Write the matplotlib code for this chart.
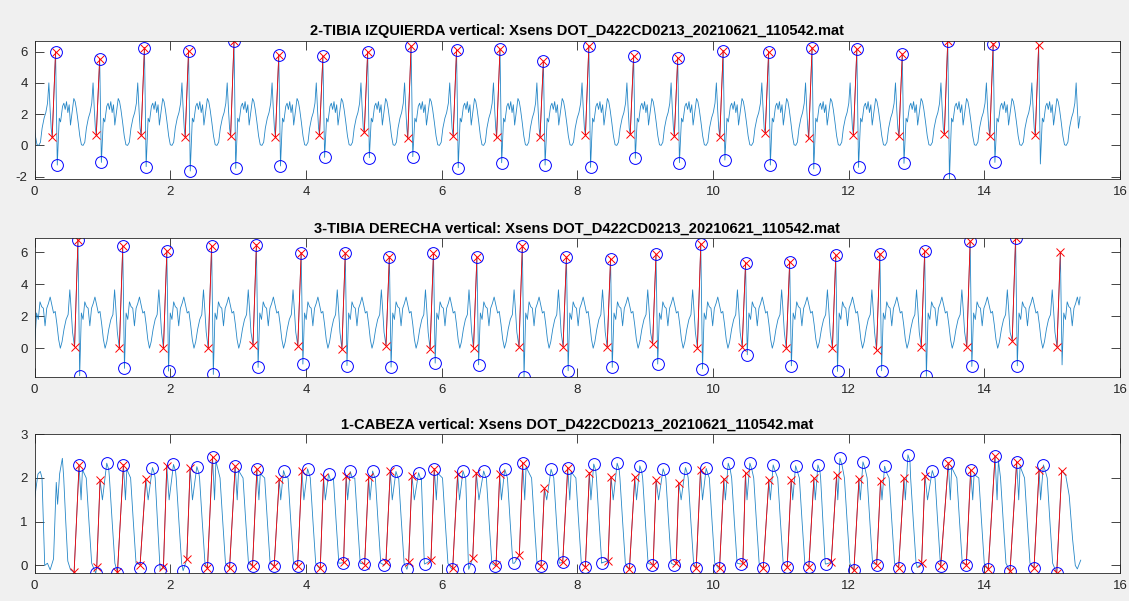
import matplotlib.pyplot as plt

plt.rcParams['font.family'] = ['Liberation Sans', 'DejaVu Sans']
plt.rcParams['axes.unicode_minus'] = False

FILE_NAME = "Xsens DOT_D422CD0213_20210621_110542.mat"
LINE_BLUE = "#0072BD"
LOW_LEAD = 0.05      # red "x" low sits this long before each spike (s)
TROUGH_LAG = 0.025   # blue trough circle sits this long after each spike (s)
NOTCH = 1.5          # small dip inside the top of each head cycle

# ---------------- 2-TIBIA IZQUIERDA ----------------
izq_peak_t = [0.31, 0.96, 1.62, 2.27, 2.94, 3.60, 4.25, 4.91, 5.55, 6.22, 6.86, 7.50,
              8.17, 8.83, 9.48, 10.15, 10.82, 11.46, 12.12, 12.79, 13.46, 14.13, 14.80]
izq_peak_y = [5.99, 5.54, 6.25, 6.03, 6.70, 5.80, 5.71, 5.99, 6.35, 6.10, 6.16, 5.39,
              6.38, 5.74, 5.59, 6.06, 5.99, 6.25, 6.16, 5.84, 6.70, 6.52, 6.42]
izq_trough_y = [-1.26, -1.09, -1.36, -1.64, -1.47, -1.32, -0.77, -0.79, -0.72, -1.43, -1.11, -1.26,
                -1.41, -0.83, -1.11, -0.94, -1.26, -1.51, -1.41, -1.15, -2.15, -1.09, -1.19]
izq_low_y = [0.52, 0.67, 0.67, 0.56, 0.60, 0.56, 0.67, 0.84, 0.46, 0.60, 0.52, 0.52,
             0.67, 0.73, 0.60, 0.56, 0.81, 0.46, 0.67, 0.60, 0.73, 0.62, 0.67]
# signal between one spike and the next: (fraction of stride, value)
izq_shape_ph = [0.083, 0.113, 0.158, 0.188, 0.218, 0.248, 0.278, 0.308, 0.338, 0.383, 0.414, 0.444,
                0.474, 0.511, 0.549, 0.586, 0.624, 0.662, 0.699, 0.744, 0.782, 0.820, 0.850, 0.880, 0.902]
izq_shape_y = [1.74, 1.5, 2.5, 2.7, 2.3, 2.8, 2.1, 2.6, 1.3, 2.3, 3.0, 2.8,
               2.3, 1.5, 0.6, 0.04, 0.0, 0.2, 1.1, 1.75, 2.1, 2.7, 4.0, 2.2, 1.1]
izq_prev_peak, izq_next_peak = -0.35, 15.45
izq_start_y, izq_end_t, izq_end_y = 1.1, 15.41, 1.85

# ---------------- 3-TIBIA DERECHA ----------------
der_peak_t = [0.64, 1.30, 1.95, 2.61, 3.27, 3.93, 4.58, 5.23, 5.88, 6.52, 7.19, 7.84,
              8.49, 9.16, 9.82, 10.48, 11.13, 11.81, 12.46, 13.12, 13.79, 14.46, 15.12]
der_peak_y = [6.77, 6.36, 6.07, 6.40, 6.46, 5.96, 5.94, 5.73, 5.94, 5.69, 6.40, 5.69,
              5.59, 5.86, 6.52, 5.32, 5.40, 5.80, 5.90, 6.05, 6.67, 6.87, 6.00]
der_trough_y = [-1.72, -1.26, -1.43, -1.64, -1.20, -0.99, -1.08, -1.18, -0.93, -1.04, -1.78, -1.41,
                -1.20, -0.99, -1.30, -0.41, -1.10, -1.45, -1.41, -1.76, -1.14, -1.10, -1.04]
der_low_y = [0.10, 0.00, 0.00, 0.00, 0.20, 0.17, -0.04, 0.17, -0.04, 0.00, 0.10, 0.10,
             0.10, 0.27, 0.04, 0.10, 0.00, 0.00, -0.10, 0.10, 0.10, 0.48, 0.10]
der_shape_ph = [0.076, 0.114, 0.152, 0.189, 0.227, 0.265, 0.303, 0.341, 0.379, 0.417, 0.455,
                0.492, 0.530, 0.568, 0.606, 0.644, 0.689, 0.735, 0.780, 0.818, 0.848, 0.879]
der_shape_y = [2.2, 1.8, 2.9, 2.6, 2.5, 1.4, 2.5, 2.8, 3.2, 2.7, 2.2,
               2.3, 1.5, 0.55, 0.0, 0.4, 1.2, 1.8, 2.1, 3.65, 2.4, 1.0]
der_prev_peak, der_next_peak = -0.02, 15.78
der_start_y, der_end_t, der_end_y = 0.1, 15.41, 3.2

# ---------------- 1-CABEZA ----------------
cab_low_t = [0.583, 0.917, 1.222, 1.556, 1.900, 2.244, 2.549, 2.874, 3.213, 3.532, 3.877, 4.211,
             4.555, 4.865, 5.179, 5.514, 5.843, 6.163, 6.458, 6.802, 7.146, 7.466, 7.785, 8.119,
             8.454, 8.768, 9.118, 9.457, 9.752, 10.096, 10.440, 10.740, 11.094, 11.413, 11.743,
             12.077, 12.412, 12.736, 13.075, 13.356, 13.734, 14.058, 14.378, 14.732, 15.066]
cab_low_y = [-0.16, -0.03, -0.16, 0.02, -0.03, 0.14, -0.05, -0.07, -0.02, -0.02, -0.01, -0.07,
             0.07, 0.02, 0.07, 0.08, 0.12, -0.07, 0.16, 0.01, 0.24, -0.01, 0.07, -0.03,
             0.11, -0.09, 0.01, 0.05, -0.07, -0.07, 0.05, -0.07, -0.03, -0.03, 0.07,
             -0.11, 0.02, -0.05, 0.05, -0.02, 0.02, -0.08, -0.13, -0.05, -0.18]
cab_high_t = [0.656, 0.966, 1.310, 1.640, 1.949, 2.293, 2.623, 2.957, 3.277, 3.606, 3.941, 4.260,
              4.594, 4.924, 5.243, 5.563, 5.892, 6.236, 6.512, 6.856, 7.195, 7.515, 7.859, 8.178,
              8.498, 8.847, 9.162, 9.496, 9.816, 10.160, 10.479, 10.823, 11.153, 11.487, 11.822,
              12.151, 12.470, 12.815, 13.124, 13.468, 13.798, 14.157, 14.476, 14.806, 15.140]
cab_high_y = [2.29, 1.95, 2.30, 1.98, 2.27, 2.22, 2.49, 2.27, 2.20, 1.97, 2.16, 2.02,
              2.05, 2.03, 2.15, 2.05, 2.21, 2.09, 2.12, 2.09, 2.35, 1.76, 2.24, 2.12,
              2.02, 2.02, 1.95, 1.88, 2.18, 1.98, 2.11, 1.95, 1.95, 1.99, 2.07,
              1.97, 1.93, 1.99, 2.05, 2.34, 2.18, 2.50, 2.37, 2.18, 2.17]
# blue circles on the top of cycles 1..44
cab_max_t = [0.656, 1.064, 1.310, 1.738, 2.048, 2.392, 2.623, 2.957, 3.277, 3.670, 4.024, 4.334,
             4.653, 4.983, 5.327, 5.661, 5.892, 6.315, 6.620, 6.930, 7.195, 7.613, 7.859, 8.242,
             8.587, 8.921, 9.265, 9.594, 9.899, 10.224, 10.543, 10.887, 11.217, 11.546, 11.871,
             12.210, 12.529, 12.873, 13.232, 13.468, 13.798, 14.157, 14.476, 14.870]
cab_max_y = [2.29, 2.34, 2.30, 2.24, 2.31, 2.26, 2.49, 2.27, 2.20, 2.17, 2.21, 2.09,
             2.15, 2.16, 2.15, 2.12, 2.21, 2.16, 2.16, 2.20, 2.35, 2.20, 2.24, 2.32,
             2.34, 2.28, 2.21, 2.24, 2.22, 2.34, 2.34, 2.30, 2.28, 2.30, 2.45,
             2.37, 2.27, 2.53, 2.17, 2.34, 2.18, 2.50, 2.37, 2.30]
# blue circles at the bottom, before cycles 2..45
cab_min_t = [0.902, 1.222, 1.556, 1.851, 2.190, 2.539, 2.874, 3.213, 3.532, 3.877, 4.201, 4.545,
             4.860, 5.155, 5.489, 5.750, 6.153, 6.399, 6.792, 7.072, 7.466, 7.785, 8.119, 8.365,
             8.768, 9.103, 9.432, 9.752, 10.086, 10.415, 10.740, 11.094, 11.413, 11.659, 12.077,
             12.412, 12.736, 13.011, 13.356, 13.734, 14.058, 14.378, 14.732, 15.066]
cab_min_y = [-0.18, -0.17, -0.05, -0.11, -0.12, -0.05, -0.07, -0.02, -0.02, -0.01, -0.07, 0.06,
             0.03, 0.01, -0.09, 0.03, -0.09, -0.09, -0.01, 0.05, -0.01, 0.07, -0.03, 0.06,
             -0.09, 0.01, 0.01, -0.07, -0.07, 0.03, -0.07, -0.03, -0.03, 0.03, -0.11,
             0.02, -0.05, -0.05, -0.02, 0.02, -0.08, -0.13, -0.05, -0.18]
cab_lead_t = [0.0, 0.05, 0.085, 0.11, 0.13, 0.15, 0.19, 0.23, 0.28, 0.32, 0.34, 0.37, 0.41, 0.43, 0.46, 0.49, 0.53]
cab_lead_y = [1.52, 2.09, 2.15, 2.0, 1.0, 0.0, 0.05, -0.1, 0.15, 1.9, 1.4, 2.1, 2.45, 2.0, 1.0, 0.1, -0.1]
cab_tail_t = [15.20, 15.25, 15.30, 15.34, 15.37, 15.39, 15.42]
cab_tail_y = [2.05, 1.6, 0.6, 0.0, -0.08, 0.0, 0.12]


def tibia_curve(peak_t, peak_y, trough_y, low_y, shape_ph, shape_y,
                prev_peak, next_peak, start_y, end_t, end_y):
    times = [prev_peak] + peak_t + [next_peak]
    pts = []
    for i in range(len(times) - 1):
        ta, tb = times[i], times[i + 1]
        if i > 0:
            pts.append((ta, peak_y[i - 1]))
            pts.append((ta + TROUGH_LAG, trough_y[i - 1]))
        for ph, v in zip(shape_ph, shape_y):
            pts.append((ta + ph * (tb - ta), v))
        if i < len(peak_t):
            pts.append((tb - LOW_LEAD, low_y[i]))
    pts = [(0.0, start_y)] + [p for p in pts if 0 < p[0] < end_t] + [(end_t, end_y)]
    return [p[0] for p in pts], [p[1] for p in pts]


def head_curve():
    t, y = list(cab_lead_t), list(cab_lead_y)
    n = len(cab_low_t)
    for k in range(n):
        if k > 0 and cab_min_t[k - 1] < cab_low_t[k] - 0.003:
            t.append(cab_min_t[k - 1])
            y.append(cab_min_y[k - 1])
        t += [cab_low_t[k], cab_high_t[k]]
        y += [cab_low_y[k], cab_high_y[k]]
        if k == n - 1:
            break
        if cab_max_t[k] > cab_high_t[k] + 0.02:
            t += [cab_high_t[k] + 0.35 * (cab_max_t[k] - cab_high_t[k]), cab_max_t[k], cab_max_t[k] + 0.03]
            y += [NOTCH, cab_max_y[k], cab_max_y[k] - 0.15]
        else:
            t += [cab_high_t[k] + 0.03, cab_high_t[k] + 0.05]
            y += [NOTCH, cab_high_y[k] - 0.1]
        nxt = cab_min_t[k]
        fall = t[-1] + max(0.01, nxt - t[-1] - 0.14)
        dur = min(0.08, nxt - fall - 0.005)
        t += [fall, fall + dur / 2, fall + dur]
        y += [2.0, 1.0, 0.05]
    t += cab_tail_t
    y += cab_tail_y
    return t, y


def style(ax, title, yticks, ylim):
    ax.set_xlim(0, 16)
    ax.set_xticks(range(0, 17, 2))
    ax.set_ylim(*ylim)
    ax.set_yticks(yticks)
    ax.tick_params(direction='in', top=True, right=True, length=6.5, width=0.6,
                   labelsize=9.5, colors='#262626', pad=5)
    for s in ax.spines.values():
        s.set_color('#262626')
        s.set_linewidth(0.6)
    ax.set_title(title, fontsize=10.5, fontweight='bold', pad=4)


def draw_tibia(ax, title, peak_t, peak_y, trough_y, low_y, shape_ph, shape_y,
               prev_peak, next_peak, start_y, end_t, end_y, yticks):
    t, y = tibia_curve(peak_t, peak_y, trough_y, low_y, shape_ph, shape_y,
                       prev_peak, next_peak, start_y, end_t, end_y)
    ax.plot(t, y, color=LINE_BLUE, lw=0.6, alpha=0.85)
    low_t = [p - LOW_LEAD for p in peak_t]
    for a, b, c, d in zip(low_t, peak_t, low_y, peak_y):
        ax.plot([a, b], [c, d], color='red', lw=0.6)
    ax.plot(low_t, low_y, 'x', color='red', ms=5.5, mew=0.7)
    ax.plot(peak_t, peak_y, 'x', color='red', ms=5.5, mew=0.7)
    # the last spike has no circles
    ax.plot(peak_t[:-1], peak_y[:-1], 'o', mfc='none', mec='blue', ms=8.5, mew=0.7)
    ax.plot([p + TROUGH_LAG for p in peak_t[:-1]], trough_y[:-1], 'o', mfc='none', mec='blue', ms=8.5, mew=0.7)
    style(ax, title, yticks, (min(y), max(y)))


fig = plt.figure(figsize=(11.29, 6.01), dpi=100, facecolor='#f0f0f0')
ax1 = fig.add_axes([0.0306, 0.7022, 0.9615, 0.2301])
ax2 = fig.add_axes([0.0306, 0.3732, 0.9615, 0.2303])
ax3 = fig.add_axes([0.0306, 0.0461, 0.9615, 0.2313])

draw_tibia(ax1, "2-TIBIA IZQUIERDA vertical: " + FILE_NAME, izq_peak_t, izq_peak_y, izq_trough_y, izq_low_y,
           izq_shape_ph, izq_shape_y, izq_prev_peak, izq_next_peak, izq_start_y, izq_end_t, izq_end_y,
           [-2, 0, 2, 4, 6])
draw_tibia(ax2, "3-TIBIA DERECHA vertical: " + FILE_NAME, der_peak_t, der_peak_y, der_trough_y, der_low_y,
           der_shape_ph, der_shape_y, der_prev_peak, der_next_peak, der_start_y, der_end_t, der_end_y,
           [0, 2, 4, 6])

t, y = head_curve()
ax3.plot(t, y, color=LINE_BLUE, lw=0.6, alpha=0.85)
for a, b, c, d in zip(cab_low_t, cab_high_t, cab_low_y, cab_high_y):
    ax3.plot([a, b], [c, d], color='red', lw=0.6)
ax3.plot(cab_low_t, cab_low_y, 'x', color='red', ms=5.5, mew=0.7)
ax3.plot(cab_high_t, cab_high_y, 'x', color='red', ms=5.5, mew=0.7)
ax3.plot(cab_max_t, cab_max_y, 'o', mfc='none', mec='blue', ms=8.5, mew=0.7)
ax3.plot(cab_min_t, cab_min_y, 'o', mfc='none', mec='blue', ms=8.5, mew=0.7)
style(ax3, "1-CABEZA vertical: " + FILE_NAME, [0, 1, 2, 3], (-0.18, 3))

fig.savefig('out.png', dpi=100, facecolor=fig.get_facecolor())
